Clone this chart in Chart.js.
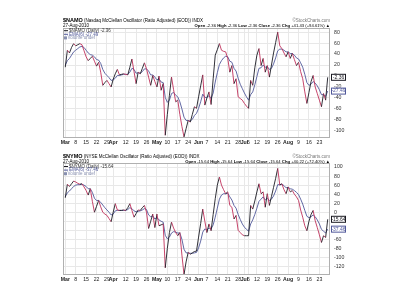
<!DOCTYPE html>
<html>
<head>
<meta charset="utf-8">
<script src="https://cdn.jsdelivr.net/npm/chart.js@4.4.0/dist/chart.umd.min.js"></script>
<style>
body{margin:0;background:#fff;width:400px;height:300px;overflow:hidden}
.panel{position:absolute;left:0;width:400px;height:150px}
</style>
</head>
<body>
<div class="panel" style="top:0"><canvas id="namoChart"></canvas></div>
<div class="panel" style="top:150px"><canvas id="nymoChart"></canvas></div>
<script>
'use strict';
// trading days from 1-Mar-2010 (index 0) to 27-Aug-2010 (index 126)
let tickDays = [0,5,10,15,20,23,29,34,39,44,49,54,59,64,68,73,78,83,86,88,92,97,102,107,112,117,122];
let tickLabels = ['Mar','8','15','22','29','Apr','12','19','26','May','10','17','24','Jun','7','14','21','28','Jul','6','12','19','26','Aug','9','16','23'];
let monthLabels = ['Mar','Apr','May','Jun','Jul','Aug'];

let namoDaily = [16,47,42,52,59,55,57,59,57,46,
 35,28,32,36,27,18,25,7,-17,-12,
 -8,-14,-20,-6,4,12,2,3,4,3,
 2,16,31,8,-14,7,4,14,24,13,
 -2,-17,1,-10,-20,0,-26,-14,-108,-70,
 -35,-2,-25,-47,-44,-70,-92,-111,-96,-81,
 -84,-70,-56,-59,-38,-18,2,-53,-40,-29,
 -52,-5,38,48,59,47,45,44,32,7,
 19,-14,-5,-38,-41,-44,-50,-55,-59,-8,
 -17,15,38,50,19,32,7,19,-2,20,
 42,61,80,55,50,42,35,44,32,41,
 30,19,25,8,-5,-29,-50,-30,-10,1,
 -20,-32,-44,-56,-32,-44,-2.36];
let namoEma = [20,28,32,38,44,47,50,53,54,52,
 47,42,39,38,35,30,29,23,12,5,
 1,-3,-8,-7,-4,1,1,2,3,3,
 3,7,14,12,5,6,5,8,13,13,
 9,2,2,-2,-7,-5,-11,-12,-39,-48,
 -44,-32,-30,-35,-38,-47,-60,-75,-81,-81,
 -82,-79,-72,-68,-59,-47,-33,-39,-39,-36,
 -41,-31,-11,6,21,28,33,36,35,27,
 25,14,9,-4,-15,-23,-31,-38,-44,-34,
 -29,-16,-1,14,15,20,16,17,12,14,
 22,33,46,49,49,47,44,44,41,41,
 38,33,31,24,16,3,-12,-17,-15,-10,
 -13,-18,-25,-34,-34,-37,-27.49];

let nymoDaily = [32,62,57,63,69,67,64,62,63,56,
 48,38,52,24,0,13,26,12,0,-4,
 -7,-14,-21,0,19,5,4,4,5,4,
 10,19,4,-11,-3,5,4,10,15,0,
 -36,-20,-4,-34,-4,-30,-28,-26,-123,-80,
 -45,-22,-35,-45,-52,-45,-95,-138,-110,-89,
 -93,-90,-87,-86,-55,-25,7,-20,-45,-26,
 -41,-5,30,60,78,60,50,41,45,15,
 11,-15,-7,-40,-45,-50,-52,-52,-52,15,
 7,25,45,63,41,45,11,41,15,35,
 55,75,97,60,63,50,41,56,45,48,
 40,34,26,5,-11,-30,-41,-20,-5,4,
 -19,-34,-50,-67,-52,-56,-15.64];
let nymoEma = [35,43,47,52,57,60,61,61,62,60,
 57,52,52,44,31,26,26,22,16,10,
 5,0,-6,-4,3,4,4,4,4,4,
 6,10,8,3,1,2,3,5,8,6,
 -6,-10,-8,-15,-12,-17,-20,-22,-51,-59,
 -55,-46,-43,-44,-46,-46,-60,-82,-90,-90,
 -91,-91,-90,-89,-79,-64,-44,-37,-39,-35,
 -37,-28,-11,9,29,38,41,41,42,34,
 27,15,9,-5,-16,-26,-33,-38,-42,-26,
 -17,-5,9,24,29,34,27,31,26,29,
 36,47,61,61,62,59,54,55,52,51,
 48,44,39,29,18,4,-9,-12,-10,-6,
 -10,-17,-26,-38,-42,-46,-37.46];

const FONT = '"Liberation Sans", Arial, sans-serif';
const UP = '#1a1a22';
const DOWN = '#c0305a';
const EMA = '#50589a';
const GRID = '#e8e8e8';

// titles, legend, OHLC line and last-value tags
const panelText = {
  id: 'panelText',
  afterDraw(chart, args, o) {
    const c = chart.ctx, a = chart.chartArea, ys = chart.scales.y;
    c.save();
    c.strokeStyle = '#b0b0b0';
    c.lineWidth = 1;
    c.strokeRect(a.left + 0.5, a.top + 0.5, a.right - a.left - 1, a.bottom - a.top - 1);

    c.textBaseline = 'middle';
    c.textAlign = 'left';
    c.fillStyle = '#000';
    c.font = 'bold 5.5px ' + FONT;
    c.fillText(o.symbol, a.left, o.top);
    let x = a.left + c.measureText(o.symbol).width + 1.2;
    c.font = '4.5px ' + FONT;
    c.fillText(o.name, x, o.top);
    c.fillText('27-Aug-2010', a.left, o.top + 5.2);

    c.fillStyle = '#777';
    c.textAlign = 'right';
    c.fillText('\u00a9StockCharts.com', a.right, o.top);

    // OHLC line, right aligned
    let v = o.last.toFixed(2);
    let parts = [['Open', 1], [' ' + v + ' ', 0], ['High', 1], [' ' + v + ' ', 0], ['Low', 1], [' ' + v + ' ', 0],
      ['Close', 1], [' ' + v + ' ', 0], ['Chg', 1], [' ' + o.chg + ' \u25b2', 0]];
    let w = 0;
    parts.forEach(p => { c.font = (p[1] ? 'bold ' : '') + '4.2px ' + FONT; w += c.measureText(p[0]).width; });
    x = a.right - w;
    c.textAlign = 'left';
    c.fillStyle = '#000';
    parts.forEach(p => {
      c.font = (p[1] ? 'bold ' : '') + '4.2px ' + FONT;
      c.fillText(p[0], x, o.top + 5.2);
      x += c.measureText(p[0]).width;
    });

    // legend
    let ly = [o.top + 10.2, o.top + 13.8, o.top + 17.4];
    c.font = '4.5px ' + FONT;
    c.lineWidth = 1;
    c.strokeStyle = UP;
    c.beginPath(); c.moveTo(a.left + 1, ly[0]); c.lineTo(a.left + 5, ly[0]); c.stroke();
    c.fillStyle = '#333';
    c.fillText(o.symbol + ' (Daily) ' + v, a.left + 6, ly[0]);
    c.strokeStyle = EMA;
    c.beginPath(); c.moveTo(a.left + 1, ly[1]); c.lineTo(a.left + 5, ly[1]); c.stroke();
    c.fillStyle = EMA;
    c.fillText('EMA(6) ' + o.ema.toFixed(2), a.left + 6, ly[1]);
    c.fillStyle = '#8890b0';
    c.fillRect(a.left + 1, ly[2] - 1.5, 3, 3);
    c.fillText('Volume undef', a.left + 4.5, ly[2]);

    // tags on the right axis
    function tag(val, color) {
      let py = ys.getPixelForValue(val);
      c.fillStyle = '#fff';
      c.fillRect(a.right + 1, py - 3.5, 15, 7);
      c.strokeStyle = color;
      c.strokeRect(a.right + 1.5, py - 3, 14, 6);
      c.fillStyle = color;
      c.textAlign = 'center';
      c.font = '5px ' + FONT;
      c.fillText(val.toFixed(2), a.right + 8.5, py);
    }
    tag(o.ema, EMA);
    tag(o.last, UP);
    c.restore();
  }
};

function drawPanel(id, daily, ema, yMin, yMax, padTop, xAxisH, info) {
  let ctx = document.getElementById(id).getContext('2d');
  return new Chart(ctx, {
    type: 'line',
    data: {
      datasets: [{
        data: daily.map((v, i) => ({x: i, y: v})),
        borderColor: UP,
        borderWidth: 0.9,
        pointRadius: 0,
        segment: {borderColor: s => s.p1.parsed.y < s.p0.parsed.y ? DOWN : UP}
      }, {
        data: ema.map((v, i) => ({x: i, y: v})),
        borderColor: EMA,
        borderWidth: 0.9,
        pointRadius: 0
      }]
    },
    options: {
      responsive: true,
      maintainAspectRatio: false,
      animation: false,
      events: [],
      layout: {padding: {left: 63, top: padTop, right: 0, bottom: 0}},
      plugins: {legend: {display: false}, tooltip: {enabled: false}, panelText: info},
      scales: {
        x: {
          type: 'linear', min: -1.1, max: 127.1,
          afterBuildTicks: s => { s.ticks = tickDays.map(d => ({value: d})); },
          afterFit: s => { s.height = xAxisH; },
          grid: {color: GRID, drawTicks: false},
          border: {display: false},
          ticks: {
            autoSkip: false, maxRotation: 0, padding: 1.5, color: '#222',
            callback: (v, i) => tickLabels[i],
            font: c => ({family: FONT, size: 5.2, weight: monthLabels.includes(tickLabels[c.index]) ? 'bold' : 'normal'})
          }
        },
        y: {
          position: 'right', min: yMin, max: yMax,
          afterFit: s => { s.width = 70; },
          grid: {color: GRID, drawTicks: false},
          border: {display: false},
          ticks: {stepSize: 20, includeBounds: false, padding: 4, color: '#333', font: {family: FONT, size: 5.2}}
        }
      }
    },
    plugins: [panelText]
  });
}

drawPanel('namoChart', namoDaily, namoEma, -113, 87.5, 28, 12, {
  symbol: '$NAMO', name: '(Nasdaq McClellan Oscillator (Ratio Adjusted) (EOD)) INDX',
  top: 20.5, last: namoDaily[namoDaily.length - 1], ema: namoEma[namoEma.length - 1], chg: '+41.43 (+94.61%)'
});
drawPanel('nymoChart', nymoDaily, nymoEma, -139, 109, 13, 25, {
  symbol: '$NYMO', name: '(NYSE McClellan Oscillator (Ratio Adjusted) (EOD)) INDX',
  top: 6.3, last: nymoDaily[nymoDaily.length - 1], ema: nymoEma[nymoEma.length - 1], chg: '+40.22 (+72.40%)'
});
</script>
</body>
</html>
